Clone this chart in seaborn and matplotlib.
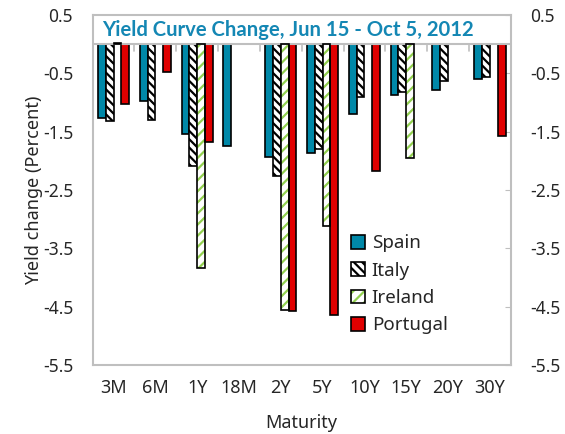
import numpy as np
import pandas as pd
import matplotlib
matplotlib.use("Agg")
import matplotlib.pyplot as plt
import seaborn as sns
from matplotlib.patches import Patch, Rectangle
from matplotlib.legend_handler import HandlerTuple

maturities = ["3M", "6M", "1Y", "18M", "2Y", "5Y", "10Y", "15Y", "20Y", "30Y"]
countries = ["Spain", "Italy", "Ireland", "Portugal"]
spain = [-1.26, -0.98, -1.54, -1.74, -1.93, -1.86, -1.19, -0.87, -0.78, -0.60]
italy = [-1.31, -1.29, -2.09, np.nan, -2.25, -1.79, -0.91, -0.82, -0.63, -0.56]
ireland = [0.02, np.nan, -3.84, np.nan, -4.55, -3.12, np.nan, -1.95, np.nan, np.nan]
portugal = [-1.03, -0.47, -1.67, np.nan, -4.57, -4.65, -2.18, np.nan, np.nan, -1.57]
yticks = [0.5, -0.5, -1.5, -2.5, -3.5, -4.5, -5.5]

rows = []
for c, vals in zip(countries, [spain, italy, ireland, portugal]):
    for m, v in zip(maturities, vals):
        if not np.isnan(v):
            rows.append({"Maturity": m, "Country": c, "Change": v})
df = pd.DataFrame(rows)

sns.set_style("white")
plt.rcParams["font.family"] = ["Noto Sans", "DejaVu Sans"]
plt.rcParams["hatch.linewidth"] = 1.6

teal = "#0088A8"
red = "#E00000"
green = "#92D050"
gray = "#BFBFBF"

fig = plt.figure(figsize=(5.65, 4.34), dpi=100)
ax = fig.add_axes([0.164, 0.159, 0.740, 0.806])

palette = {"Spain": teal, "Italy": "white", "Ireland": "white", "Portugal": red}
sns.barplot(data=df, x="Maturity", y="Change", hue="Country", order=maturities,
            hue_order=countries, palette=palette, width=0.75, gap=0,
            edgecolor="black", linewidth=1.2, legend=False, ax=ax, saturation=1)

for cont, c in zip(ax.containers, countries):
    for p in cont.patches:
        if c == "Italy":
            p.set_hatch("\\\\\\\\")
            p.set_edgecolor("black")
        elif c == "Ireland":
            p.set_hatch("///")
            p.set_edgecolor(green)
            p.set_linewidth(0)
            r = Rectangle(p.get_xy(), p.get_width(), p.get_height(), fill=False,
                          edgecolor="black", linewidth=1.2, zorder=p.get_zorder() + 0.1)
            ax.add_patch(r)

ax.set_ylim(-5.5, 0.5)
ax.set_xlim(-0.5, len(maturities) - 0.5)
ax.set_yticks(yticks)
ax.set_yticklabels([f"{t:.1f}" for t in yticks])
ax.tick_params(axis="y", direction="in", length=4, color=gray, right=True,
               labelright=True, labelsize=12.5, pad=14)
ax.tick_params(axis="x", length=0, labelsize=13, pad=10)
for s in ax.spines.values():
    s.set_color(gray)
    s.set_linewidth(1.5)

ax.axhline(0, color=gray, lw=1.5, zorder=1)
for b in np.arange(-0.5, len(maturities) - 0.4, 1.0):
    ax.plot([b, b], [0, -0.12], color=gray, lw=1.2, zorder=1)

ax.text(-0.27, 0.24, "Yield Curve Change, Jun 15 - Oct 5, 2012",
        fontsize=14.6, fontweight="bold", color="#1487B4", va="center", ha="left",
        family=["Lato", "DejaVu Sans"])

ax.set_xlabel("Maturity", fontsize=13, labelpad=12)
ax.set_ylabel("Yield change (Percent)", fontsize=13, labelpad=0)

h_spain = Patch(facecolor=teal, edgecolor="black", linewidth=1.2)
h_italy = Patch(facecolor="white", edgecolor="black", hatch="\\\\\\\\", linewidth=1.2)
h_ire = (Patch(facecolor="white", edgecolor=green, hatch="///", linewidth=0),
         Patch(facecolor="none", edgecolor="black", linewidth=1.2))
h_por = Patch(facecolor=red, edgecolor="black", linewidth=1.2)
ax.legend([h_spain, h_italy, h_ire, h_por], countries,
          handler_map={tuple: HandlerTuple(ndivide=1)},
          loc="upper left", bbox_to_anchor=(0.6, 0.395), frameon=False,
          fontsize=13.5, handlelength=0.75, handleheight=0.75, handletextpad=0.35,
          labelspacing=0.5, borderaxespad=0)

fig.savefig("out.png", dpi=100)
